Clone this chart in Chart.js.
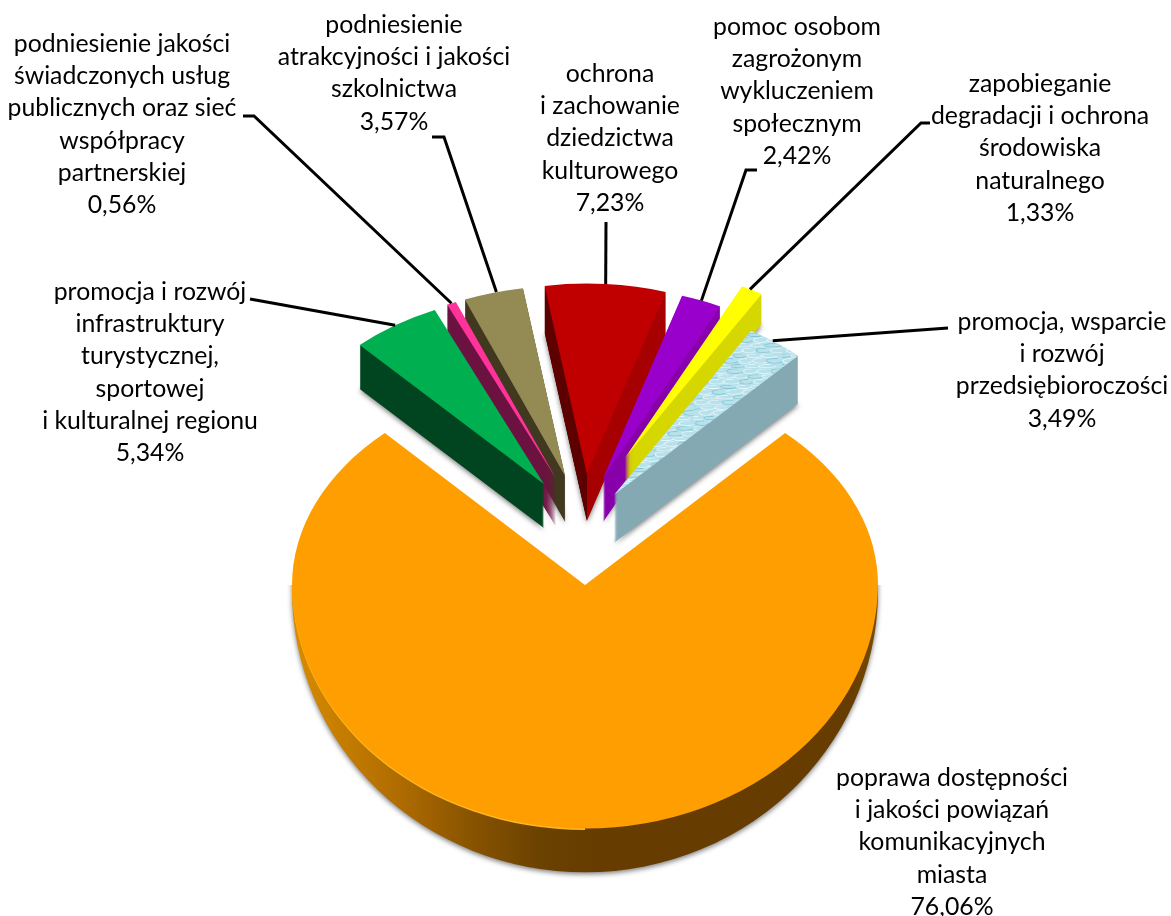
<!DOCTYPE html>
<html>
<head>
<meta charset="utf-8">
<style>
  html, body { margin: 0; padding: 0; background: #fff; }
  #wrap { width: 1171px; height: 916px; }
</style>
<script src="https://cdn.jsdelivr.net/npm/chart.js@4/dist/chart.umd.min.js"></script>
</head>
<body>
<div id="wrap"><canvas id="pie" width="1171" height="916"></canvas></div>
<script>
// values, order is clockwise starting at the green slice
const categories = [
  "promocja i rozwój infrastruktury turystycznej, sportowej i kulturalnej regionu",
  "podniesienie jakości świadczonych usług publicznych oraz sieć współpracy partnerskiej",
  "podniesienie atrakcyjności i jakości szkolnictwa",
  "ochrona i zachowanie dziedzictwa kulturowego",
  "pomoc osobom zagrożonym wykluczeniem społecznym",
  "zapobieganie degradacji i ochrona środowiska naturalnego",
  "promocja, wsparcie i rozwój przedsiębioroczości",
  "poprawa dostępności i jakości powiązań komunikacyjnych miasta",
];
const shares = [5.34, 0.56, 3.57, 7.23, 2.42, 1.33, 3.49, 76.06];
const labelLines = [
  ["promocja i rozwój", "infrastruktury", "turystycznej,", "sportowej", "i kulturalnej regionu"],
  ["podniesienie jakości", "świadczonych usług", "publicznych oraz sieć", "współpracy", "partnerskiej"],
  ["podniesienie", "atrakcyjności i jakości", "szkolnictwa"],
  ["ochrona", "i zachowanie", "dziedzictwa", "kulturowego"],
  ["pomoc osobom", "zagrożonym", "wykluczeniem", "społecznym"],
  ["zapobieganie", "degradacji i ochrona", "środowiska", "naturalnego"],
  ["promocja, wsparcie", "i rozwój", "przedsiębioroczości"],
  ["poprawa dostępności", "i jakości powiązań", "komunikacyjnych", "miasta"],
];
const percentText = ["5,34%", "0,56%", "3,57%", "7,23%", "2,42%", "1,33%", "3,49%", "76,06%"];

// look of the slices
const faceColors = ["#00b050", "#ff3399", "#948a54", "#c00000", "#9900cc", "#ffff00", "#bfe6ee", "#ff9e00"];
const wallLeft = ["#00451f", "#6b1240", "#40381f", "#5c0000", "#7a00a0", "#d6d600", "#85a9b3", "#663c00"];
const wallRight = ["#00451f", "#6b1240", "#40381f", "#a60000", "#8800aa", "#d6d600", "#85a9b3", "#663c00"];
const explode = [81, 89, 89, 91, 81, 115, 60, 0];
// small screen corrections on top of the radial explode
const nudgeX = [0, 3, 2, -4, -9, -10, -4, 0];
const nudgeY = [-4, 0, 0, 1, -5, -8, -6, 0];
const depth = [44, 48, 46, 47, 44, 30, 48, 42];
const drawOrder = [7, 3, 2, 1, 0, 4, 5, 6];

// label block centre x, first line y
const labelX = [150, 122, 394, 610, 797, 1040, 1062, 952];
const labelY = [292, 44, 25, 74, 27, 84, 322, 778];
const lineGap = 32.2;
// leader: start points (elbow) then where along the outer arc it lands
const leaderFrom = [
  [[250, 299]],
  [[243, 116], [254, 116]],
  [[432, 137], [444, 137]],
  [[606, 222]],
  [[757, 170], [746, 170]],
  [[930, 123], [921, 123]],
  [[948, 328]],
  null,
];
const leaderFrac = [0.5, 0.5, 0.55, 0.5, 0.5, 0.4, 0.44, 0];

// "3d" view, maps the flat pie onto the screen
const R = 293;
const bigView = { x: 585, y: 585, sx: 1, up: 0.71, down: 0.836, wall: 0.96, wallDrop: 6 };
const smallView = { x: 585, y: 532, sx: 0.92, sy: 0.65 };

function waterPattern() {
  const c = document.createElement("canvas");
  c.width = 96;
  c.height = 64;
  const g = c.getContext("2d");
  g.fillStyle = "#b7e2ec";
  g.fillRect(0, 0, 96, 64);
  for (let row = 0; row < 8; row++) {
    for (let col = 0; col < 6; col++) {
      const x = col * 16 + (row % 2) * 8 + ((row * 5) % 7);
      const y = row * 8 + 4;
      g.lineWidth = 1.2;
      g.strokeStyle = (row + col) % 3 === 0 ? "rgba(70,160,185,0.45)" : "rgba(255,255,255,0.7)";
      g.beginPath();
      g.ellipse(x, y, 7 + (col % 3), 2.5 + (row % 2), 0, 0, Math.PI * 1.6);
      g.stroke();
    }
  }
  return g.createPattern(c, "repeat");
}

const ctx0 = document.getElementById("pie").getContext("2d");
const fills = faceColors.slice();
fills[6] = waterPattern();

function drawWith(el, color, ctx) {
  const saved = el.options;
  el.options = Object.assign({}, saved, { backgroundColor: color, borderWidth: 0 });
  el.draw(ctx);
  el.options = saved;
}

function wallFill(ctx, el, i) {
  const g = ctx.createLinearGradient(el.x - R, 0, el.x + R, 0);
  if (i === 7) {
    g.addColorStop(0, "#d88c00");
    g.addColorStop(0.18, "#b06c00");
    g.addColorStop(0.3, "#8a5400");
    g.addColorStop(0.42, "#6c4200");
    g.addColorStop(0.52, "#663c00");
    g.addColorStop(0.95, "#663c00");
    g.addColorStop(1, "#7a4c00");
    return g;
  }
  g.addColorStop(0, wallLeft[i]);
  g.addColorStop(0.5, wallLeft[i]);
  g.addColorStop(0.5, wallRight[i]);
  g.addColorStop(1, wallRight[i]);
  return g;
}

function placeSmall(ctx, el, i, drop) {
  const mid = (el.startAngle + el.endAngle) / 2;
  ctx.translate(smallView.x + nudgeX[i], smallView.y + nudgeY[i] + drop);
  ctx.scale(smallView.sx, smallView.sy);
  ctx.translate(Math.cos(mid) * explode[i], Math.sin(mid) * explode[i]);
  ctx.translate(-el.x, -el.y);
}

function drawBig(ctx, el, i) {
  const w = ctx.canvas.width, h = ctx.canvas.height;
  const v = bigView;
  // lower half, the wall is a deeper ellipse so it thins out at the sides
  ctx.save();
  ctx.beginPath();
  ctx.rect(0, v.y, w, h - v.y);
  ctx.clip();
  ctx.save();
  ctx.shadowColor = "rgba(0,0,0,0.5)";
  ctx.shadowBlur = 5;
  ctx.shadowOffsetY = 2;
  ctx.translate(v.x, v.y + v.wallDrop);
  ctx.scale(v.sx, v.wall);
  ctx.translate(-el.x, -el.y);
  drawWith(el, wallFill(ctx, el, i), ctx);
  ctx.restore();
  // thin light rim, left part only
  ctx.save();
  ctx.beginPath();
  ctx.rect(0, v.y, v.x, h - v.y);
  ctx.clip();
  ctx.translate(v.x, v.y);
  ctx.scale(v.sx, v.down);
  ctx.translate(-el.x, -el.y);
  drawWith(el, "#ffb81e", ctx);
  ctx.restore();
  ctx.save();
  ctx.translate(v.x, v.y - 1.5);
  ctx.scale(v.sx, v.down);
  ctx.translate(-el.x, -el.y);
  drawWith(el, faceColors[i], ctx);
  ctx.restore();
  ctx.restore();
  // upper half
  ctx.save();
  ctx.beginPath();
  ctx.rect(0, 0, w, v.y);
  ctx.clip();
  ctx.translate(v.x, v.y);
  ctx.scale(v.sx, v.up);
  ctx.translate(-el.x, -el.y);
  drawWith(el, faceColors[i], ctx);
  ctx.restore();
}

function drawSmall(ctx, el, i) {
  for (let k = depth[i]; k >= 1; k--) {
    ctx.save();
    if (k === depth[i]) {
      ctx.shadowColor = "rgba(0,0,0,0.5)";
      ctx.shadowBlur = 5;
      ctx.shadowOffsetY = 2;
    }
    placeSmall(ctx, el, i, k);
    drawWith(el, wallFill(ctx, el, i), ctx);
    ctx.restore();
  }
  ctx.save();
  placeSmall(ctx, el, i, 0);
  el.draw(ctx);
  ctx.restore();
}

const pie3d = {
  id: "pie3d",
  beforeDatasetDraw(chart, args) {
    const ctx = chart.ctx;
    const arcs = chart.getDatasetMeta(args.index).data;
    drawOrder.forEach((i) => {
      if (i === 7) drawBig(ctx, arcs[i], i);
      else drawSmall(ctx, arcs[i], i);
    });
    return false;
  },
  afterDraw(chart) {
    const ctx = chart.ctx;
    const arcs = chart.getDatasetMeta(0).data;
    ctx.save();
    // leaders
    ctx.strokeStyle = "#000";
    ctx.lineWidth = 3;
    ctx.lineJoin = "miter";
    leaderFrom.forEach((pts, i) => {
      if (!pts) return;
      const el = arcs[i];
      const a = el.startAngle + (el.endAngle - el.startAngle) * leaderFrac[i];
      const mid = (el.startAngle + el.endAngle) / 2;
      const px = Math.cos(a) * el.outerRadius + Math.cos(mid) * explode[i];
      const py = Math.sin(a) * el.outerRadius + Math.sin(mid) * explode[i];
      ctx.beginPath();
      pts.forEach((p, n) => (n ? ctx.lineTo(p[0], p[1]) : ctx.moveTo(p[0], p[1])));
      ctx.lineTo(smallView.x + nudgeX[i] + px * smallView.sx, smallView.y + nudgeY[i] + py * smallView.sy);
      ctx.stroke();
    });
    // labels
    ctx.fillStyle = "#000";
    ctx.textAlign = "center";
    ctx.textBaseline = "middle";
    ctx.font = '24.8px Lato, "Noto Sans", sans-serif';
    labelLines.forEach((lines, i) => {
      lines.concat(percentText[i]).forEach((t, n) => {
        ctx.fillText(t, labelX[i], labelY[i] + n * lineGap);
      });
    });
    ctx.restore();
  },
};

new Chart(ctx0, {
  type: "pie",
  data: {
    labels: categories,
    datasets: [
      {
        data: shares,
        backgroundColor: fills,
        borderWidth: 0,
        clip: false,
      },
    ],
  },
  options: {
    responsive: false,
    animation: false,
    rotation: -43.1,
    radius: R,
    plugins: {
      legend: { display: false },
      tooltip: { enabled: false },
    },
  },
  plugins: [pie3d],
});
</script>
</body>
</html>
